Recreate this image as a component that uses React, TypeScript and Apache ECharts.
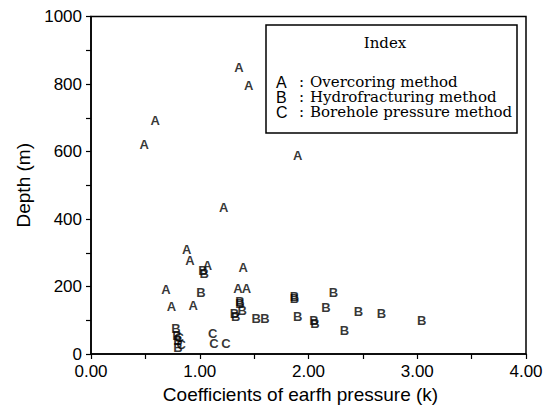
import React, { useEffect, useRef } from "react";
import * as echarts from "echarts";

// Overcoring method (A)
const seriesA: [number, number][] = [
  [0.49, 620], [0.59, 692], [1.36, 848], [1.45, 797], [1.9, 588],
  [1.22, 434], [0.88, 311], [0.91, 278], [1.07, 262], [1.4, 256],
  [0.69, 190], [1.35, 195], [1.43, 195], [0.74, 140], [0.94, 145],
];
// Hydrofracturing method (B)
const seriesB: [number, number][] = [
  [1.03, 246], [1.04, 239], [1.01, 182], [1.37, 157], [1.37, 150],
  [1.32, 120], [1.39, 128], [1.33, 112], [1.52, 106], [1.6, 105],
  [1.87, 170], [1.87, 163], [1.9, 110], [2.05, 98], [2.06, 90],
  [2.16, 138], [2.23, 182], [2.33, 70], [2.46, 126], [2.67, 120],
  [3.04, 100], [0.78, 75], [0.79, 55], [0.8, 40], [0.8, 18],
];
// Borehole pressure method (C)
const seriesC: [number, number][] = [
  [0.81, 48], [0.83, 28], [1.12, 61], [1.13, 32], [1.24, 32],
];

const xTicks = [0, 1, 2, 3, 4];
const yTicks = [0, 200, 400, 600, 800, 1000];
const legendTitle = "Index";
const legendKeys = ["A", "B", "C"];
const legendLabels = ["Overcoring method", "Hydrofracturing method", "Borehole pressure method"];
const xName = "Coefficients of earfh pressure (k)";
const yName = "Depth (m)";

const SANS = "'Liberation Sans', Arial, sans-serif";
const SERIF = "'DejaVu Serif', serif";

function letterSeries(name: string, data: [number, number][]) {
  return {
    type: "scatter",
    name,
    data,
    symbol: "circle",
    symbolSize: 1,
    itemStyle: { color: "rgba(0,0,0,0)" },
    silent: true,
    label: {
      show: true,
      position: "inside",
      formatter: name,
      color: "#000",
      fontWeight: "bold",
      fontSize: 13,
      fontFamily: SANS,
    },
    emphasis: { disabled: true },
  };
}

export default function App() {
  const ref = useRef<HTMLDivElement>(null);
  useEffect(() => {
    if (!ref.current) return;
    const chart = echarts.init(ref.current, null, { renderer: "svg" });
    const lx = 266, ly = 25;
    const graphics: any[] = [
      {
        type: "rect",
        shape: { x: lx, y: ly, width: 251, height: 108 },
        style: { fill: "#fff", stroke: "#000", lineWidth: 1.5 },
        z: 10,
      },
      {
        type: "text",
        x: 385, y: 43,
        style: { text: legendTitle, font: `15px ${SERIF}`, fill: "#000", align: "center", verticalAlign: "middle" },
        z: 11,
      },
    ];
    legendKeys.forEach((k, i) => {
      const y = 82 + i * 15;
      graphics.push(
        { type: "text", x: 276, y, style: { text: k, font: `16px ${SANS}`, fill: "#000", verticalAlign: "middle" }, z: 11 },
        { type: "text", x: 299, y, style: { text: ":", font: `15px ${SERIF}`, fill: "#000", verticalAlign: "middle" }, z: 11 },
        { type: "text", x: 310, y, style: { text: legendLabels[i], font: `15px ${SERIF}`, fill: "#000", verticalAlign: "middle" }, z: 11 },
      );
    });

    chart.setOption({
      animation: false,
      backgroundColor: "#fff",
      grid: {
        left: 91, right: 21, top: 16.5, bottom: 56,
        show: true, borderColor: "#000", borderWidth: 1.5, backgroundColor: "transparent",
        containLabel: false, outerBoundsMode: "none",
      },
      xAxis: {
        type: "value",
        min: xTicks[0], max: xTicks[xTicks.length - 1], interval: 1,
        axisLine: { show: true, lineStyle: { color: "#000", width: 1.5 } },
        axisTick: { show: true, length: 5, lineStyle: { color: "#000", width: 1.2 } },
        minorTick: { show: true, splitNumber: 2, length: 5, lineStyle: { color: "#000", width: 1.2 } },
        splitLine: { show: false },
        axisLabel: { formatter: (v: number) => v.toFixed(2), color: "#000", fontSize: 17, fontFamily: SANS, margin: 9 },
        name: xName,
        nameLocation: "middle",
        nameGap: 30,
        nameTextStyle: { color: "#000", fontSize: 19, fontFamily: SANS, padding: [0, 16, 0, 0] },
      },
      yAxis: {
        type: "value",
        min: yTicks[0], max: yTicks[yTicks.length - 1], interval: 200,
        axisLine: { show: true, lineStyle: { color: "#000", width: 1.5 } },
        axisTick: { show: true, length: 5, lineStyle: { color: "#000", width: 1.2 } },
        minorTick: { show: true, splitNumber: 2, length: 5, lineStyle: { color: "#000", width: 1.2 } },
        splitLine: { show: false },
        axisLabel: { formatter: (v: number) => String(v), color: "#000", fontSize: 17, fontFamily: SANS, margin: 9 },
        name: yName,
        nameLocation: "middle",
        nameGap: 56,
        nameTextStyle: { color: "#000", fontSize: 19, fontFamily: SANS },
      },
      series: [
        letterSeries("A", seriesA),
        letterSeries("B", seriesB),
        letterSeries("C", seriesC),
      ],
      graphic: graphics,
    });
    return () => chart.dispose();
  }, []);
  return (
    <div
      ref={ref}
      style={{ position: "fixed", left: 0, top: 0, width: 547, height: 410, background: "#fff" }}
    />
  );
}
